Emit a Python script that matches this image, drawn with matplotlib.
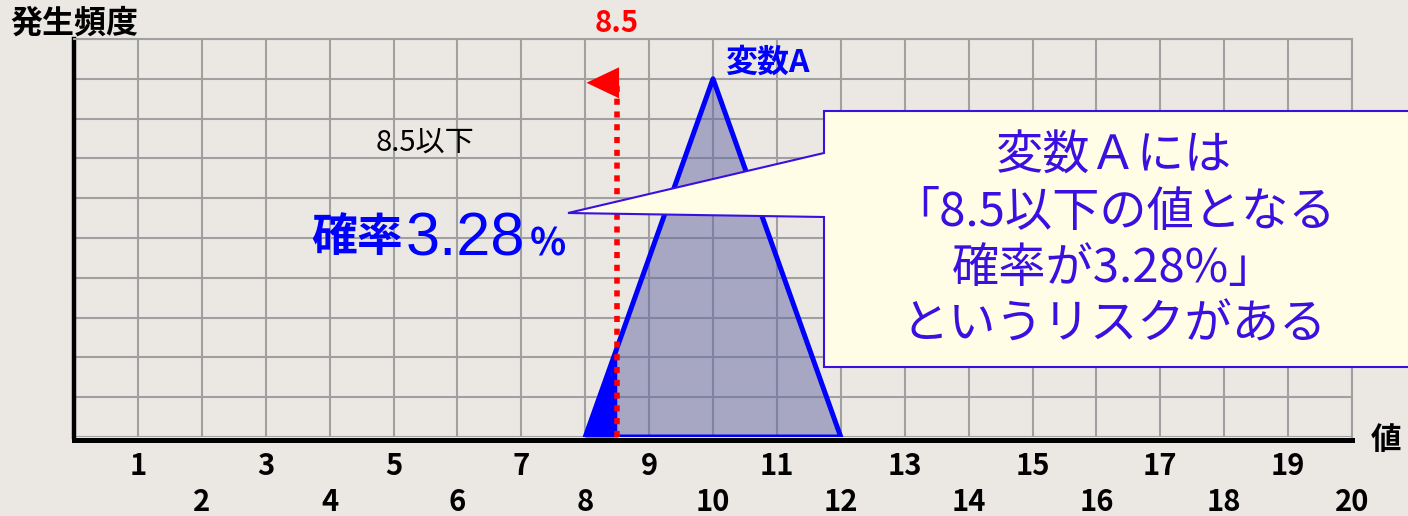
import numpy as np
import matplotlib
matplotlib.use("Agg")
import matplotlib.pyplot as plt
from matplotlib.patches import Polygon
from matplotlib.ticker import FixedLocator, FixedFormatter

plt.rcParams["font.family"] = ["Noto Sans CJK JP", "DejaVu Sans"]
plt.rcParams["font.weight"] = "bold"

# Triangular distribution of variable A
var_x = [8, 10, 12]
var_freq = [0, 9, 0]
series_name = "変数A"

# Threshold and the probability of falling at or below it
threshold = 8.5
probability_pct = 3.28

# Axis ticks (odd values on the first row, even values on the second)
odd_ticks = [1, 3, 5, 7, 9, 11, 13, 15, 17, 19]
even_ticks = [2, 4, 6, 8, 10, 12, 14, 16, 18, 20]
y_grid = list(range(0, 11))

y_label = "発生頻度"
x_label = "値"
callout_lines = ["変数Ａには", "「8.5以下の値となる", "確率が3.28%」", "というリスクがある"]

BG = "#ebe8e4"
GRID = "#a0a0a0"
BLUE = "#0000ff"
PURPLE = "#3a10e0"
RED = "#ff0000"

W, H = 1408, 516


def fx(px):
    return px / W


def fy(py):
    return 1 - py / H


fig = plt.figure(figsize=(W / 100, H / 100), dpi=100, facecolor=BG)
ax = fig.add_axes([fx(74), fy(437), (1352 - 74) / W, (437 - 39) / H])
ax.set_facecolor(BG)
ax.set_xlim(0, 20)
ax.set_ylim(0, 10)

ax.xaxis.set_major_locator(FixedLocator(odd_ticks))
ax.xaxis.set_major_formatter(FixedFormatter([str(t) for t in odd_ticks]))
ax.xaxis.set_minor_locator(FixedLocator(even_ticks))
ax.xaxis.set_minor_formatter(FixedFormatter([str(t) for t in even_ticks]))
ax.set_yticks(y_grid)
ax.set_yticklabels([])
ax.tick_params(axis="both", which="both", length=0)
ax.tick_params(axis="x", which="major", pad=8, labelsize=21)
ax.tick_params(axis="x", which="minor", pad=34, labelsize=21)
ax.grid(True, which="both", color=GRID, lw=1.5)
ax.set_axisbelow(True)

for side in ("top", "right"):
    ax.spines[side].set_color(GRID)
    ax.spines[side].set_linewidth(1.5)
ax.spines["left"].set_color("black")
ax.spines["left"].set_linewidth(3.2)
ax.spines["bottom"].set_color("black")
ax.spines["bottom"].set_linewidth(3.6)
ax.spines["bottom"].set_position(("outward", 2))

# Distribution body
ax.fill(var_x, var_freq, facecolor="#6468a4", alpha=0.5, lw=0, zorder=1)

# Region at or below the threshold
xs = np.linspace(var_x[0], threshold, 60)
ys = np.interp(xs, var_x, var_freq)
ax.fill_between(xs, 0, ys, color=BLUE, edgecolor="#8a8ab0", lw=0.8, zorder=2)

# Distribution outline
ax.add_patch(Polygon(np.column_stack([var_x, var_freq]), closed=True, fill=False,
                     edgecolor=BLUE, lw=3.6, joinstyle="round", zorder=3))

# Threshold marker: dotted line ending in a left-pointing head
arrow_y = 8.9
head_w, head_h = 0.48, 0.78
ax.vlines(threshold, 0, arrow_y, colors=RED, lw=4.0, linestyles=(0, (1.1, 1.2)),
          zorder=4)
ax.add_patch(Polygon([(threshold + 0.03, arrow_y - head_h / 2),
                      (threshold + 0.03, arrow_y + head_h / 2),
                      (threshold - head_w, arrow_y)],
                     closed=True, facecolor=RED, edgecolor="none", zorder=4,
                     clip_on=False))

# Callout box with pointer
callout = [(824, 111), (1420, 111), (1420, 367), (824, 367), (824, 217), (568, 213), (824, 153)]
fig.add_artist(Polygon([(fx(x), fy(y)) for x, y in callout], closed=True,
                       transform=fig.transFigure, facecolor="#fffde6",
                       edgecolor=PURPLE, lw=1.5, zorder=5))
fig.text(fx(1114), fy(241), "\n".join(callout_lines), fontsize=34, color=PURPLE,
         fontweight="normal", ha="center", va="center", multialignment="center",
         linespacing=1.21, zorder=6)

# Labels
fig.text(fx(10), fy(24), y_label, fontsize=23, ha="left", va="center")
fig.text(fx(1386), fy(440), x_label, fontsize=22, ha="center", va="center")
fig.text(fx(617), fy(23), f"{threshold}", color=RED, fontsize=21,
         ha="center", va="center")
fig.text(fx(767), fy(63), series_name, color=BLUE, fontsize=23,
         ha="center", va="center")
fig.text(fx(425), fy(143), f"{threshold}以下", fontsize=21, fontweight="normal",
         ha="center", va="center")
fig.text(fx(403), fy(238), "確率", color=BLUE, fontsize=33,
         ha="right", va="center")
fig.text(fx(406), fy(255), f"{probability_pct}", color=BLUE, fontsize=44,
         family="Liberation Sans", fontweight="normal", ha="left", va="baseline")
fig.text(fx(530), fy(255), "%", color=BLUE, fontsize=27,
         ha="left", va="baseline")

fig.savefig("out.png", dpi=100, facecolor=BG)
